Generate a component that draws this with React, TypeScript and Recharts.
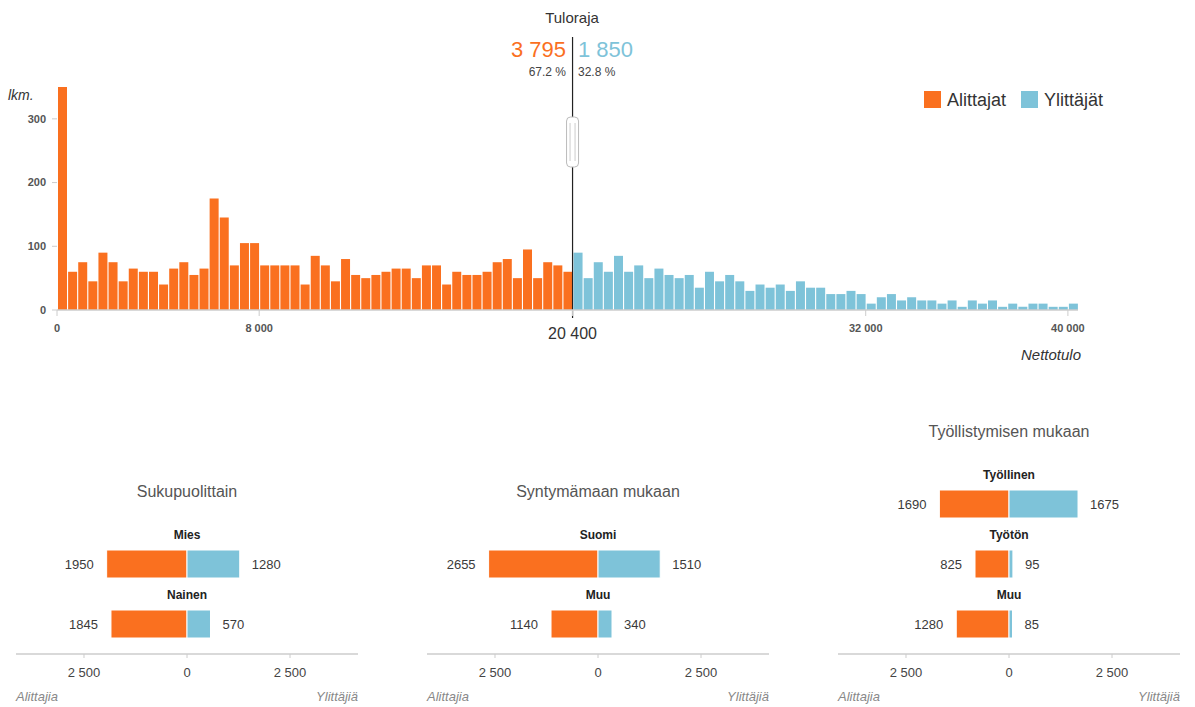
import React from 'react';
import { BarChart, Bar, XAxis, YAxis, ReferenceLine, LabelList } from 'recharts';

const ORANGE = '#FA701F';
const BLUE = '#7EC3D9';
const FONT = '"Liberation Sans", Arial, Helvetica, sans-serif';

// ---- Histogram data ----
const BIN_WIDTH = 400;
const THRESHOLD = 20400;
const X_MAX = 40400;
const Y_MAX = 350;
const underCounts = [
  350, 60, 75, 45, 90, 75, 45, 65, 60, 60, 40, 65, 75, 55, 65, 175, 145, 70, 105, 105, 70, 70, 70, 70,
  40, 85, 70, 45, 80, 55, 50, 55, 60, 65, 65, 50, 70, 70, 40, 60, 55, 55, 60, 75, 80, 50, 95, 50, 75, 70, 60,
];
const overCounts = [
  90, 50, 75, 60, 85, 60, 70, 50, 65, 55,
  50, 55, 35, 60, 45, 55, 45, 30, 40, 35,
  40, 30, 45, 35, 35, 25, 25, 30, 25, 10,
  20, 25, 15, 20, 15, 15, 10, 15, 5, 15,
  10, 15, 5, 10, 5, 10, 10, 5, 5, 10,
];
const xTicks = [0, 8000, 20400, 32000, 40000];
const yTicks = [0, 100, 200, 300];

const totalUnder = 3795;
const totalOver = 1850;
const pctUnder = '67.2 %';
const pctOver = '32.8 %';

// ---- Breakdown panels ----
const genderCats = ['Mies', 'Nainen'];
const genderUnder = [1950, 1845];
const genderOver = [1280, 570];

const birthCats = ['Suomi', 'Muu'];
const birthUnder = [2655, 1140];
const birthOver = [1510, 340];

const employCats = ['Työllinen', 'Työtön', 'Muu'];
const employUnder = [1690, 825, 1280];
const employOver = [1675, 95, 85];

const panelTicks = [-2500, 0, 2500];
const PANEL_DOMAIN: [number, number] = [-4150, 4150];

function fmt(n: number) {
  return String(n).replace(/\B(?=(\d{3})+(?!\d))/g, ' ');
}

const histData = [
  ...underCounts.map((v, i) => ({ x: i * BIN_WIDTH + BIN_WIDTH / 2, under: v, over: 0 })),
  ...overCounts.map((v, i) => ({ x: THRESHOLD + i * BIN_WIDTH + BIN_WIDTH / 2, under: 0, over: v })),
];

const HistTick = (props: any) => {
  const { x, y, payload } = props;
  const big = payload.value === THRESHOLD;
  return (
    <text x={x} y={y} dy={big ? 21 : 14} textAnchor="middle" fontSize={big ? 16 : 11}
      fontWeight={big ? 'normal' : 'bold'} fill={big ? '#333' : '#555'} fontFamily={FONT}>
      {fmt(payload.value)}
    </text>
  );
};

const ThresholdShape = (p: any) => {
  const x = p.x1;
  const top = Math.min(p.y1, p.y2);
  const bottom = Math.max(p.y1, p.y2);
  return (
    <g>
      <line x1={x} x2={x} y1={top - 50} y2={bottom + 8} stroke="#222" strokeWidth={1.2} />
      <rect x={x - 6} y={top + 30} width={12} height={50} rx={4} fill="#fff" stroke="#bbb" strokeWidth={1} />
      <line x1={x - 2.5} x2={x - 2.5} y1={top + 36} y2={top + 74} stroke="#ccc" strokeWidth={1} />
      <line x1={x + 2.5} x2={x + 2.5} y1={top + 36} y2={top + 74} stroke="#ccc" strokeWidth={1} />
    </g>
  );
};

function box(p: any) {
  const vb = p.viewBox || p;
  return { x: Number(vb.x), y: Number(vb.y), width: Number(vb.width), height: Number(vb.height) };
}

const UnderLabel = (p: any) => {
  const { x, y, width, height } = box(p);
  const left = Math.min(x, x + width);
  return (
    <text x={left - 13} y={y + height / 2} dy={4.5} textAnchor="end" fontSize={13} fill="#3a3a3a" fontFamily={FONT}>
      {Math.abs(Number(p.value))}
    </text>
  );
};

const OverLabel = (p: any) => {
  const { x, y, width, height } = box(p);
  const right = Math.max(x, x + width);
  return (
    <text x={right + 12} y={y + height / 2} dy={4.5} textAnchor="start" fontSize={13} fill="#3a3a3a" fontFamily={FONT}>
      {Math.abs(Number(p.value))}
    </text>
  );
};

const CatLabel = (p: any) => {
  const { x, y, width } = box(p);
  const zero = Math.min(x, x + width);
  return (
    <text x={zero} y={y - 16} dy={4.5} textAnchor="middle" fontSize={12} fontWeight="bold" fill="#222" fontFamily={FONT}>
      {p.value}
    </text>
  );
};

function Panel(props: { title: string; cats: string[]; under: number[]; over: number[]; left: number; plotTop: number }) {
  const { title, cats, under, over, left, plotTop } = props;
  const data = cats.map((c, i) => ({ name: c, under: -under[i], over: over[i] }));
  const W = 342;
  const mTop = 20;
  const axisH = 40;
  const plotH = cats.length * 60;
  return (
    <>
      <div style={{ position: 'absolute', left, width: W, top: plotTop - 52, height: 20, lineHeight: '20px', textAlign: 'center', fontSize: 16, color: '#555' }}>
        {title}
      </div>
      <div style={{ position: 'absolute', left, top: plotTop - mTop }}>
        <BarChart width={W} height={mTop + plotH + axisH} data={data} layout="vertical" stackOffset="sign"
          margin={{ top: mTop, right: 0, bottom: 0, left: 0 }}>
          <XAxis type="number" domain={PANEL_DOMAIN} ticks={panelTicks} tickFormatter={(v: number) => fmt(Math.abs(v))}
            height={axisH} axisLine={{ stroke: '#ccc', strokeWidth: 1.5 }} tickLine={{ stroke: '#ccc' }} tickSize={4}
            tickMargin={10} tick={{ fontSize: 13, fill: '#444', fontFamily: FONT }} allowDataOverflow interval={0} />
          <YAxis type="category" dataKey="name" hide />
          <Bar dataKey="under" stackId="s" fill={ORANGE} barSize={28} stroke="#fff" strokeWidth={1} isAnimationActive={false}>
            <LabelList dataKey="under" content={UnderLabel} />
          </Bar>
          <Bar dataKey="over" stackId="s" fill={BLUE} barSize={28} stroke="#fff" strokeWidth={1} isAnimationActive={false}>
            <LabelList dataKey="over" content={OverLabel} />
            <LabelList dataKey="name" content={CatLabel} />
          </Bar>
        </BarChart>
      </div>
      <div style={{ position: 'absolute', left, top: 687, height: 20, lineHeight: '20px', fontSize: 13, fontStyle: 'italic', color: '#888' }}>
        Alittajia
      </div>
      <div style={{ position: 'absolute', left, width: W, top: 687, height: 20, lineHeight: '20px', fontSize: 13, fontStyle: 'italic', color: '#888', textAlign: 'right' }}>
        Ylittäjiä
      </div>
    </>
  );
}

export default function App() {
  return (
    <div style={{ position: 'absolute', left: 0, top: 0, width: 1195, height: 707, background: '#fff', fontFamily: FONT, overflow: 'hidden' }}>
      {/* Header */}
      <div style={{ position: 'absolute', left: 472, width: 200, top: 8, height: 20, lineHeight: '20px', textAlign: 'center', fontSize: 15, color: '#333' }}>
        Tuloraja
      </div>
      <div style={{ position: 'absolute', right: 1195 - 566, top: 36, height: 28, lineHeight: '28px', fontSize: 22, color: ORANGE }}>
        {fmt(totalUnder)}
      </div>
      <div style={{ position: 'absolute', left: 578, top: 36, height: 28, lineHeight: '28px', fontSize: 22, color: BLUE }}>
        {fmt(totalOver)}
      </div>
      <div style={{ position: 'absolute', right: 1195 - 566, top: 64, height: 16, lineHeight: '16px', fontSize: 12, color: '#444' }}>
        {pctUnder}
      </div>
      <div style={{ position: 'absolute', left: 578, top: 64, height: 16, lineHeight: '16px', fontSize: 12, color: '#444' }}>
        {pctOver}
      </div>

      {/* Legend */}
      <div style={{ position: 'absolute', left: 924, top: 91, width: 17, height: 17, background: ORANGE }} />
      <div style={{ position: 'absolute', left: 947, top: 88, height: 24, lineHeight: '24px', fontSize: 18, color: '#333' }}>Alittajat</div>
      <div style={{ position: 'absolute', left: 1021, top: 91, width: 17, height: 17, background: BLUE }} />
      <div style={{ position: 'absolute', left: 1044, top: 88, height: 24, lineHeight: '24px', fontSize: 18, color: '#333' }}>Ylittäjät</div>

      <div style={{ position: 'absolute', left: 8, top: 85, height: 20, lineHeight: '20px', fontSize: 14, fontStyle: 'italic', color: '#333' }}>lkm.</div>
      <div style={{ position: 'absolute', right: 1195 - 1081, top: 345, height: 20, lineHeight: '20px', fontSize: 15, fontStyle: 'italic', color: '#333' }}>Nettotulo</div>

      {/* Histogram */}
      <div style={{ position: 'absolute', left: 0, top: 0 }}>
        <BarChart width={1195} height={380} data={histData} margin={{ top: 87, right: 117, bottom: 40, left: 17 }}>
          <XAxis type="number" dataKey="x" domain={[0, X_MAX]} ticks={xTicks} interval={0} height={30}
            axisLine={{ stroke: '#ccc', strokeWidth: 1.5 }} tickLine={{ stroke: '#ccc' }} tickSize={6} tick={<HistTick />} allowDataOverflow />
          <YAxis type="number" domain={[0, Y_MAX]} ticks={yTicks} width={40} axisLine={false}
            tickLine={{ stroke: '#ccc' }} tickSize={5} tickMargin={6} tick={{ fontSize: 11, fill: '#555', fontWeight: 'bold', fontFamily: FONT }} allowDataOverflow />
          <Bar dataKey="under" name="Alittajat" stackId="h" fill={ORANGE} barSize={9} isAnimationActive={false} />
          <Bar dataKey="over" name="Ylittäjät" stackId="h" fill={BLUE} barSize={9} isAnimationActive={false} />
          <ReferenceLine x={THRESHOLD} shape={ThresholdShape} />
        </BarChart>
      </div>

      {/* Breakdown panels */}
      <Panel title="Sukupuolittain" cats={genderCats} under={genderUnder} over={genderOver} left={16} plotTop={534} />
      <Panel title="Syntymämaan mukaan" cats={birthCats} under={birthUnder} over={birthOver} left={427} plotTop={534} />
      <Panel title="Työllistymisen mukaan" cats={employCats} under={employUnder} over={employOver} left={838} plotTop={474} />
    </div>
  );
}
